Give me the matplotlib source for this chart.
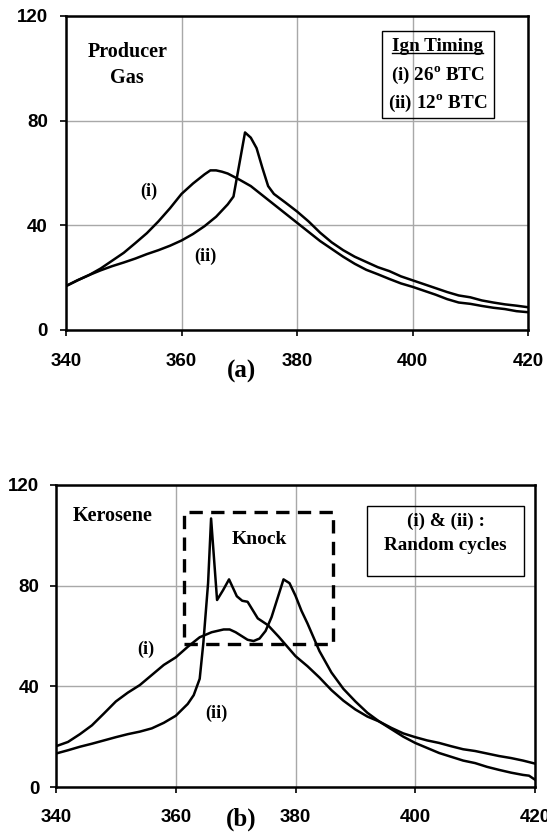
import matplotlib
matplotlib.use('Agg')
import matplotlib.pyplot as plt
from matplotlib.patches import Rectangle
from matplotlib.lines import Line2D

plt.rcParams['mathtext.fontset'] = 'custom'
plt.rcParams['mathtext.rm'] = 'Liberation Serif:bold'
plt.rcParams['mathtext.bf'] = 'Liberation Serif:bold'

# (a) Producer gas - pressure vs crank angle
pg_x1 = [340, 342, 344, 346, 348, 350, 352, 354, 356, 358, 360, 362, 364, 365, 366, 367, 368,
         370, 372, 374, 376, 378, 380, 382, 384, 386, 388, 390, 392, 394, 396, 398, 400,
         402, 404, 406, 408, 410, 412, 414, 416, 418, 420]
pg_y1 = [16.8, 19, 21, 23.5, 26.5, 29.5, 33.2, 37, 41.5, 46.5, 52, 56, 59.5, 61, 61, 60.5, 59.8,
         57.5, 55, 51.5, 48, 44.5, 41, 37.5, 34, 31, 28, 25.3, 23, 21.3, 19.5, 17.8, 16.5,
         15, 13.5, 11.8, 10.5, 10, 9.2, 8.5, 8, 7.2, 6.8]
pg_x2 = [340, 342, 344, 346, 348, 350, 352, 354, 356, 358, 360, 362, 364, 366, 368, 369, 371,
         372, 373, 374, 375, 376, 378, 380, 382, 384, 386, 388, 390, 392, 394, 396, 398,
         400, 402, 404, 406, 408, 410, 412, 414, 416, 418, 420]
pg_y2 = [16.8, 19, 21, 22.8, 24.4, 25.8, 27.3, 29, 30.5, 32.2, 34.2, 36.7, 39.7, 43.3, 48, 51, 75.5,
         73.5, 69.5, 62, 55, 52, 48.7, 45.3, 41.5, 37.2, 33.5, 30.5, 28, 26, 24, 22.5, 20.5,
         19, 17.5, 16, 14.5, 13.2, 12.5, 11.3, 10.5, 9.8, 9.3, 8.7]

# (b) Kerosene - two random cycles
ke_x1 = [340, 342, 344, 346, 348, 350, 352, 354, 356, 358, 360, 362, 364, 366, 368, 369, 370,
         371, 372, 373, 374, 375, 376, 377, 378, 379, 380, 381, 382, 383, 384, 386, 388,
         390, 392, 394, 396, 398, 400, 402, 404, 406, 408, 410, 412, 414, 416, 418, 419, 420]
ke_y1 = [16.2, 17.9, 21, 24.5, 29.2, 34, 37.5, 40.5, 44.5, 48.5, 51.5, 55.7, 59.5, 61.5, 62.6, 62.6, 61.5,
         60, 58.5, 58, 59, 62, 67.5, 75, 82.5, 81, 76, 70, 65, 59.5, 54, 45.5, 39,
         34, 29.5, 26, 23, 20, 17.5, 15.5, 13.5, 12, 10.5, 9.5, 8, 6.8, 5.7, 4.8, 4.5, 2.9]
ke_x2 = [340, 342, 344, 346, 348, 350, 352, 354, 356, 358, 360, 362, 363, 364, 364.6, 365.4, 365.9,
         366.9, 367.9, 368.9, 370.2, 371.1, 372, 373.7, 375.4, 377.2, 380, 382, 384, 386, 388,
         390, 392, 394, 396, 398, 400, 402, 404, 406, 408, 410, 412, 414, 416, 418, 420]
ke_y2 = [13.3, 14.6, 16, 17.2, 18.5, 19.8, 21, 22, 23.3, 25.5, 28.3, 33, 36.5, 43, 57, 81, 106.7,
         74.3, 78.2, 82.5, 75.8, 74, 73.6, 67, 64.3, 59.7, 52, 48, 43.5, 38.5, 34.3,
         30.8, 28, 26, 23.5, 21.3, 19.8, 18.5, 17.5, 16.2, 15, 14.3, 13.3, 12.3, 11.5, 10.5, 9.3]

xticks = [340, 360, 380, 400, 420]
yticks = [0, 40, 80, 120]

serif = dict(family='Liberation Serif', fontweight='bold')
fs = 13.8  # annotation text size


def style_axes(ax, xpad, ypad):
    ax.set_xlim(340, 420)
    ax.set_ylim(0, 120)
    ax.set_xticks(xticks)
    ax.set_yticks(yticks)
    ax.grid(True, color='#a8a8a8', lw=1.0)
    ax.set_axisbelow(True)
    for s in ax.spines.values():
        s.set_linewidth(1.8)
    ax.tick_params(direction='out', length=4.5, width=1.2, labelsize=13.5)
    ax.tick_params(axis='x', pad=xpad)
    ax.tick_params(axis='y', pad=ypad)
    for lab in ax.get_xticklabels() + ax.get_yticklabels():
        lab.set_family('Liberation Sans')
        lab.set_fontweight('bold')


fig = plt.figure(figsize=(5.47, 8.33), dpi=100)

# ---- top panel: producer gas
ax1 = fig.add_axes([66 / 547, 1 - 330 / 833, 462 / 547, 314 / 833])
style_axes(ax1, 12, 8.5)
ax1.plot(pg_x1, pg_y1, color='black', lw=1.8)
ax1.plot(pg_x2, pg_y2, color='black', lw=1.8)
ax1.text(350.6, 101.3, 'Producer\nGas', ha='center', va='center', fontsize=14.5,
         linespacing=1.4, **serif)
ax1.text(354.4, 52.9, '(i)', ha='center', va='center', fontsize=13, **serif)
ax1.text(364.2, 28, '(ii)', ha='center', va='center', fontsize=13, **serif)
ax1.add_patch(Rectangle((394.7, 81.1), 19.4, 33.3, fill=False, ec='black', lw=1.0, zorder=3))
t_ign = ax1.text(404.4, 108.3, 'Ign Timing', ha='center', va='center', fontsize=fs, **serif)
ax1.text(404.4, 97.1, r'(i) 26$^{\mathrm{o}}$ BTC', ha='center', va='center', fontsize=fs, **serif)
ax1.text(404.4, 86.4, r'(ii) 12$^{\mathrm{o}}$ BTC', ha='center', va='center', fontsize=fs, **serif)
fig.text(241 / 547, 1 - 371 / 833, '(a)', ha='center', va='center', fontsize=18, **serif)

# ---- bottom panel: kerosene
ax2 = fig.add_axes([56 / 547, 1 - 787 / 833, 479 / 547, 302 / 833])
style_axes(ax2, 11, 7.5)
ax2.plot(ke_x1, ke_y1, color='black', lw=1.8)
ax2.plot(ke_x2, ke_y2, color='black', lw=1.8)
ax2.add_patch(Rectangle((361.3, 56.7), 24.9, 52.7, fill=False, ec='black', lw=2.4,
                        ls=(0, (4, 2.5)), zorder=3))
ax2.text(349.4, 107.8, 'Kerosene', ha='center', va='center', fontsize=14.5, **serif)
ax2.text(373.9, 98.5, 'Knock', ha='center', va='center', fontsize=14, **serif)
ax2.text(355, 54.8, '(i)', ha='center', va='center', fontsize=13, **serif)
ax2.text(366.8, 29.3, '(ii)', ha='center', va='center', fontsize=13, **serif)
ax2.add_patch(Rectangle((391.9, 83.8), 26.3, 28.0, fill=False, ec='black', lw=1.0, zorder=3))
ax2.text(405.1, 105.4, '(i) & (ii) :', ha='center', va='center', fontsize=fs, **serif)
ax2.text(405.1, 96.1, 'Random cycles', ha='center', va='center', fontsize=fs, **serif)
fig.text(241 / 547, 1 - 819 / 833, '(b)', ha='center', va='center', fontsize=18, **serif)

# underline for "Ign Timing"
fig.canvas.draw()
bb = t_ign.get_window_extent().transformed(fig.transFigure.inverted())
fig.add_artist(Line2D([bb.x0, bb.x1], [bb.y0 + 0.002, bb.y0 + 0.002], color='black', lw=1.0,
                      transform=fig.transFigure))

fig.savefig('out.png', dpi=100)
